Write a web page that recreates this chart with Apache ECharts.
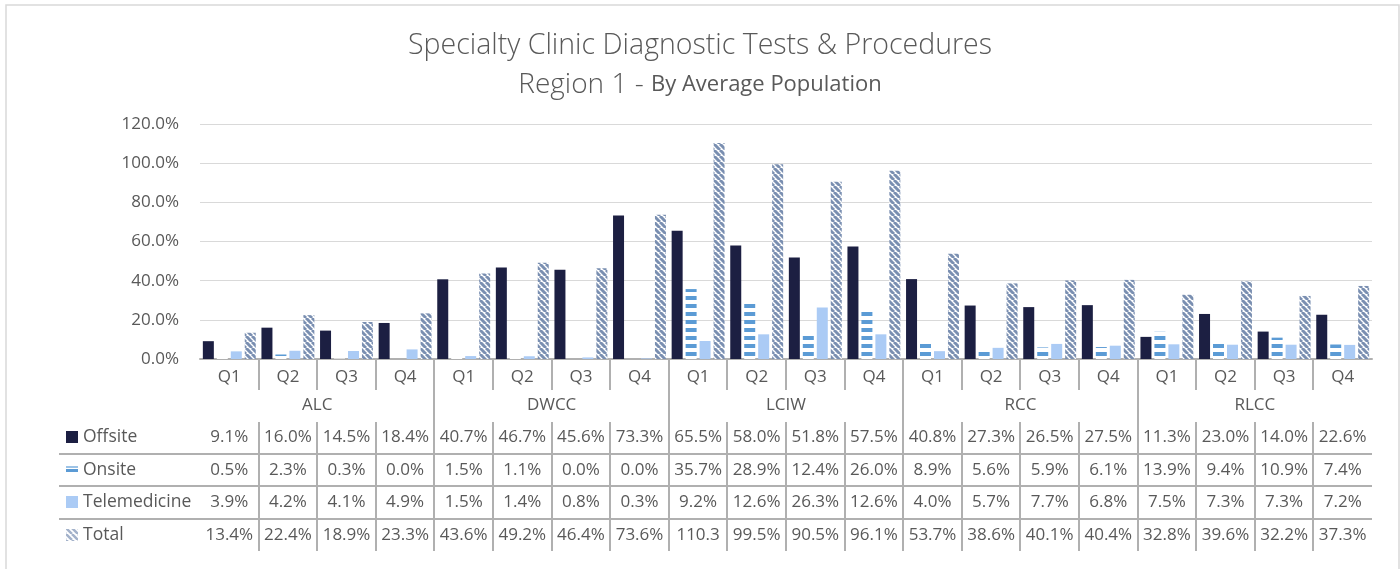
<!DOCTYPE html>
<html>
<head>
<meta charset="utf-8">
<script src="https://cdn.jsdelivr.net/npm/echarts@6/dist/echarts.min.js"></script>
<style>
html, body { margin: 0; padding: 0; background: #fff; }
#main { width: 1400px; height: 569px; }
</style>
</head>
<body>
<div id="main"></div>
<script>
// data
var groups = ['ALC', 'DWCC', 'LCIW', 'RCC', 'RLCC'];
var quarters = ['Q1', 'Q2', 'Q3', 'Q4'];
var offsite = [9.1, 16.0, 14.5, 18.4, 40.7, 46.7, 45.6, 73.3, 65.5, 58.0, 51.8, 57.5, 40.8, 27.3, 26.5, 27.5, 11.3, 23.0, 14.0, 22.6];
var onsite = [0.5, 2.3, 0.3, 0.0, 1.5, 1.1, 0.0, 0.0, 35.7, 28.9, 12.4, 26.0, 8.9, 5.6, 5.9, 6.1, 13.9, 9.4, 10.9, 7.4];
var telemedicine = [3.9, 4.2, 4.1, 4.9, 1.5, 1.4, 0.8, 0.3, 9.2, 12.6, 26.3, 12.6, 4.0, 5.7, 7.7, 6.8, 7.5, 7.3, 7.3, 7.2];
var total = [13.4, 22.4, 18.9, 23.3, 43.6, 49.2, 46.4, 73.6, 110.3, 99.5, 90.5, 96.1, 53.7, 38.6, 40.1, 40.4, 32.8, 39.6, 32.2, 37.3];

var categories = [];
groups.forEach(function () {
    quarters.forEach(function (q) { categories.push(q); });
});

var FONT = 'Open Sans';
var TXT = '#595959';
var LINE = '#b0b0b0';

// fill patterns (excel style)
function stripes() {
    var c = document.createElement('canvas');
    c.width = 8; c.height = 8;
    var g = c.getContext('2d');
    g.fillStyle = '#fff'; g.fillRect(0, 0, 8, 8);
    g.fillStyle = '#5b9bd5'; g.fillRect(0, 0, 8, 4);
    return c;
}
function hatch(color, w) {
    var s = 6;
    var c = document.createElement('canvas');
    c.width = s; c.height = s;
    var g = c.getContext('2d');
    g.fillStyle = '#fff'; g.fillRect(0, 0, s, s);
    g.strokeStyle = color; g.lineWidth = w;
    g.beginPath();
    for (var k = -1; k <= 1; k++) { g.moveTo(k * s, 0); g.lineTo(k * s + s, s); }
    g.stroke();
    return c;
}
var onsiteFill = { image: stripes(), repeat: 'repeat' };
var totalFill = { image: hatch('#7a8fb1', 3), repeat: 'repeat' };

function bar(name, data, color) {
    return {
        name: name, type: 'bar', data: data,
        barWidth: 11, barGap: '27%',
        itemStyle: { color: color },
        silent: true
    };
}

var chart = echarts.init(document.getElementById('main'));

chart.setOption({
    animation: false,
    title: [{
        text: 'Specialty Clinic Diagnostic Tests & Procedures',
        left: 'center', top: 26,
        textStyle: { fontFamily: FONT, fontSize: 28.5, fontWeight: 300, color: TXT }
    }, {
        text: '{a|Region 1 - }{b|By Average Population}',
        left: 'center', top: 66,
        textStyle: {
            fontWeight: 'normal',
            rich: {
                a: { fontFamily: FONT, fontSize: 28, fontWeight: 300, color: TXT },
                b: { fontFamily: FONT, fontSize: 22, fontWeight: 'normal', color: TXT }
            }
        }
    }],
    grid: { left: 200, right: 28, top: 124, bottom: 210 },
    xAxis: [{
        type: 'category', data: categories,
        axisLine: { lineStyle: { color: LINE, width: 2 } },
        axisTick: { show: false },
        axisLabel: { interval: 0, margin: 10, fontFamily: FONT, fontSize: 17, color: TXT }
    }, {
        type: 'category', data: groups, position: 'bottom', offset: 28,
        axisLine: { show: false }, axisTick: { show: false },
        axisLabel: { interval: 0, margin: 10, fontFamily: FONT, fontSize: 17, color: TXT }
    }],
    yAxis: {
        type: 'value', min: 0, max: 120, interval: 20,
        axisLine: { show: false }, axisTick: { show: false },
        splitLine: { lineStyle: { color: '#d9d9d9' } },
        axisLabel: {
            margin: 21, fontFamily: FONT, fontSize: 17, color: TXT,
            formatter: function (v) { return v.toFixed(1) + '%'; }
        }
    },
    series: [
        bar('Offsite', offsite, '#1c1f42'),
        bar('Onsite', onsite, onsiteFill),
        bar('Telemedicine', telemedicine, '#abcbf5'),
        bar('Total', total, totalFill)
    ]
});

// data table under the axis
var rows = [
    { name: 'Offsite', data: offsite, y: 437 },
    { name: 'Onsite', data: onsite, y: 470 },
    { name: 'Telemedicine', data: telemedicine, y: 502 },
    { name: 'Total', data: total, y: 535 }
];
var xs = categories.map(function (c, i) { return chart.convertToPixel({ xAxisIndex: 0 }, i); });
var step = xs[1] - xs[0];
var x0 = chart.convertToPixel({ yAxisIndex: 0 }, 0);
var right = xs[xs.length - 1] + step / 2;
var g = [];

g.push({ type: 'rect', shape: { x: 6, y: 5, width: 1393, height: 620 },
    style: { fill: 'none', stroke: '#d9d9d9', lineWidth: 1.5 } });

function vline(x, y1, y2) {
    g.push({ type: 'line', z: 10, shape: { x1: x, y1: y1, x2: x, y2: y2 },
        style: { stroke: LINE, lineWidth: 2 } });
}
for (var i = 1; i < xs.length; i++) {
    var bx = Math.round(xs[i] - step / 2);
    if (i % 4 === 0) {
        vline(bx, x0, 551);
    } else {
        vline(bx, x0, 390);
        vline(bx, 422, 551);
    }
}
[454, 486, 519].forEach(function (y) {
    g.push({ type: 'line', z: 10, shape: { x1: 59, y1: y, x2: right, y2: y },
        style: { stroke: LINE, lineWidth: 2 } });
});

function fmt(v) {
    var s = v.toFixed(1);
    return v >= 100 ? s : s + '%';
}
rows.forEach(function (r) {
    g.push({ type: 'text', x: 83, y: r.y,
        style: { text: r.name, fontFamily: FONT, fontSize: 17.5, fill: TXT, verticalAlign: 'middle' } });
    r.data.forEach(function (v, i) {
        g.push({ type: 'text', x: xs[i], y: r.y,
            style: { text: fmt(v), fontFamily: FONT, fontSize: 17, fill: TXT, align: 'center', verticalAlign: 'middle' } });
    });
});

// legend keys
g.push({ type: 'rect', shape: { x: 66, y: 431, width: 12, height: 12 }, style: { fill: '#1c1f42' } });
g.push({ type: 'rect', shape: { x: 66, y: 466, width: 12, height: 2 }, style: { fill: '#9dc3e6' } });
g.push({ type: 'rect', shape: { x: 66, y: 469, width: 12, height: 3 }, style: { fill: '#5b9bd5' } });
g.push({ type: 'rect', shape: { x: 66, y: 496, width: 12, height: 12 }, style: { fill: '#abcbf5' } });
g.push({ type: 'rect', shape: { x: 66, y: 529, width: 12, height: 12 }, style: { fill: { image: hatch('#a3b2ca', 2.5), repeat: 'repeat' } } });

chart.setOption({ graphic: g });
</script>
</body>
</html>
